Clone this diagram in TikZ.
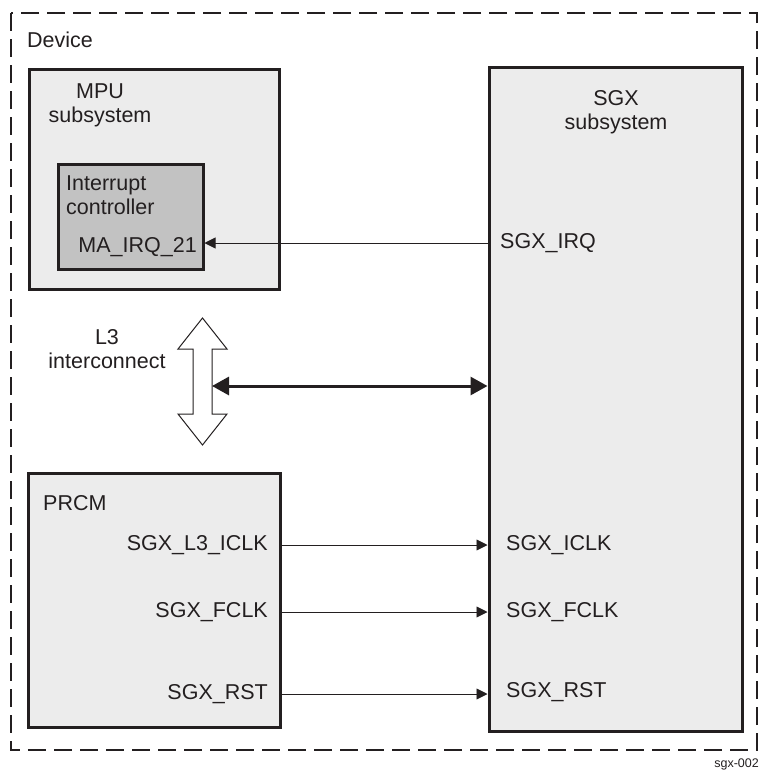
\documentclass[tikz,border=0pt]{standalone}
\usepackage{fontspec}
\setmainfont{Liberation Sans}
\usetikzlibrary{arrows.meta}

\definecolor{ink}{HTML}{231F20}
\definecolor{boxgray}{HTML}{ECECEC}
\definecolor{intcgray}{HTML}{C2C2C2}

\tikzset{
  devbox/.style={draw=ink, line width=2pt, dash pattern=on 18pt off 8pt},
  sysbox/.style={draw=ink, line width=3pt, fill=boxgray, inner sep=0pt},
  intcbox/.style={sysbox, fill=intcgray},
  lbl/.style={inner sep=0pt, text=ink, font=\fontsize{21.5}{24}\selectfont},
  sigarrow/.style={draw=ink, line width=0.9pt, -{Triangle[length=11pt,width=11pt]}},
  busarrow/.style={draw=ink, line width=3pt,
    {Triangle[length=17pt,width=18pt]}-{Triangle[length=17pt,width=18pt]}},
}

\begin{document}
\begin{tikzpicture}[x=1pt, y=-1pt]
  \useasboundingbox (0,0) rectangle (760,772);

  % Device outline
  \draw[devbox] (11,13) rectangle (757,750);
  \node[lbl, anchor=west] (devlbl) at (27,40) {Device};

  % Subsystem boxes
  \node[sysbox, minimum width=250pt, minimum height=220pt] (mpu) at (154,179) {};
  \node[intcbox, minimum width=145pt, minimum height=105pt] (intc) at (130.5,216.5) {};
  \node[sysbox, minimum width=253pt, minimum height=664pt] (sgx) at (615.5,399) {};
  \node[sysbox, minimum width=252pt, minimum height=254pt] (prcm) at (154,600) {};

  % Box titles
  \node[lbl, align=center] (mpulbl) at (100,105) {MPU\\subsystem};
  \node[lbl, align=left, anchor=west] (intclbl) at (66,195) {Interrupt\\controller};
  \node[lbl, align=center] (sgxlbl) at (616,112) {SGX\\subsystem};
  \node[lbl, anchor=west] (prcmlbl) at (43,503) {PRCM};
  \node[lbl, align=center] (l3lbl) at (107,349) {L3\\interconnect};

  % Port labels
  \node[lbl, anchor=east] (mairq) at (197,247) {MA\_IRQ\_21};
  \node[lbl, anchor=west] (sgxirq) at (500,243) {SGX\_IRQ};
  \node[lbl, anchor=east] (l3iclk) at (268,545) {SGX\_L3\_ICLK};
  \node[lbl, anchor=east] (fclkout) at (268,612) {SGX\_FCLK};
  \node[lbl, anchor=east] (rstout) at (268,694) {SGX\_RST};
  \node[lbl, anchor=west] (iclkin) at (506,545) {SGX\_ICLK};
  \node[lbl, anchor=west] (fclkin) at (506,612) {SGX\_FCLK};
  \node[lbl, anchor=west] (rstin) at (506,692) {SGX\_RST};

  % L3 block arrow
  \draw[draw=ink, line width=1pt, fill=white]
    (202.5,318) -- (227,349) -- (212,349) -- (212,414) -- (227,414)
    -- (202.5,445) -- (178,414) -- (193,414) -- (193,349) -- (178,349) -- cycle;
  \coordinate (l3shaft) at (212,386);

  % Connectors
  \draw[sigarrow] (sgx.west |- sgxirq) -- (intc.east |- sgxirq);
  \draw[busarrow] (l3shaft) -- (sgx.west |- l3shaft);
  \draw[sigarrow] (prcm.east |- l3iclk) -- (sgx.west |- l3iclk);
  \draw[sigarrow] (prcm.east |- fclkout) -- (sgx.west |- fclkout);
  \draw[sigarrow] (prcm.east |- rstout) -- (sgx.west |- rstout);

  % Figure tag
  \node[inner sep=0pt, text=ink, font=\fontsize{12.5}{15}\selectfont, anchor=base east] (tag) at (759,767) {sgx-002};
\end{tikzpicture}
\end{document}
